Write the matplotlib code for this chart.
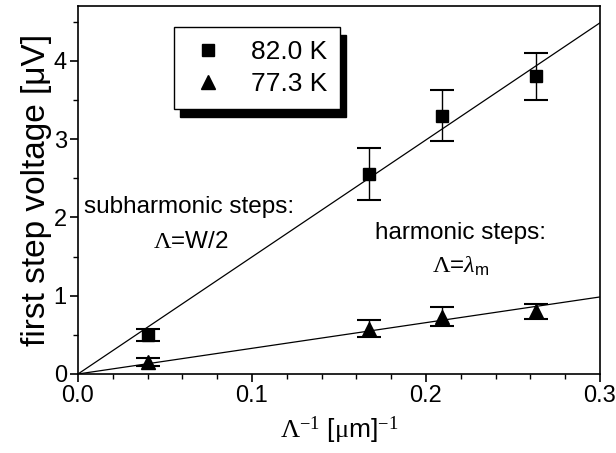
import matplotlib
matplotlib.use("Agg")
from matplotlib import pyplot as plt
from matplotlib.patches import Rectangle
from matplotlib.transforms import IdentityTransform
import numpy as np

plt.rcParams['font.family'] = ['Liberation Sans', 'DejaVu Sans']
plt.rcParams['mathtext.fontset'] = 'custom'
plt.rcParams['mathtext.rm'] = 'Liberation Serif'
plt.rcParams['mathtext.it'] = 'Liberation Serif:italic'
plt.rcParams['mathtext.sf'] = 'Liberation Sans'

# data
inv_lambda = [0.040, 0.167, 0.209, 0.263]
v_820 = [0.50, 2.55, 3.30, 3.80]
err_820 = [0.08, 0.33, 0.33, 0.30]
v_773 = [0.15, 0.58, 0.73, 0.80]
err_773 = [0.05, 0.11, 0.12, 0.10]
slope_820 = 14.95
slope_773 = 3.28

fig = plt.figure(figsize=(6.16, 4.53), dpi=100)
ax = fig.add_axes([0.1266, 0.1744, 0.8474, 0.8124])

xfit = np.array([0.0, 0.3])
ax.plot(xfit, slope_820 * xfit, '-k', lw=0.9)
ax.plot(xfit, slope_773 * xfit, '-k', lw=0.9)

ax.errorbar(inv_lambda, v_820, yerr=err_820, fmt='none', ecolor='k',
            capsize=8.5, elinewidth=1, capthick=1.5)
ax.errorbar(inv_lambda, v_773, yerr=err_773, fmt='none', ecolor='k',
            capsize=8.5, elinewidth=1, capthick=1.5)
ax.plot(inv_lambda, v_820, 's', color='k', ms=8.5, label='82.0 K')
ax.plot(inv_lambda, v_773, '^', color='k', ms=10, label='77.3 K')

ax.set_xlim(0, 0.3)
ax.set_ylim(0, 4.7)
ax.set_xticks([0.0, 0.1, 0.2, 0.3])
ax.set_xticklabels(['0.0', '0.1', '0.2', '0.3'])
ax.set_xticks(np.arange(0, 0.31, 0.02), minor=True)
ax.set_yticks([0, 1, 2, 3, 4])
ax.set_yticks(np.arange(0, 4.7, 0.5), minor=True)
ax.tick_params(which='major', direction='out', length=6, width=1.2, labelsize=17, pad=2)
ax.tick_params(which='minor', direction='out', length=3.5, width=1)
ax.tick_params(top=False, right=False)
for s in ax.spines.values():
    s.set_linewidth(1.2)

ax.set_xlabel(r'$\Lambda^{-1}$ [$\mathrm{\mu}$m]$^{-1}$', fontsize=19, labelpad=5)
ax.set_ylabel('first step voltage [\u03bcV]', fontsize=24, labelpad=1)

ax.text(0.064, 2.13, 'subharmonic steps:', fontsize=17.5, ha='center', va='center')
ax.text(0.065, 1.68, r'$\Lambda$=W/2', fontsize=17.5, ha='center', va='center')
ax.text(0.220, 1.80, 'harmonic steps:', fontsize=17.5, ha='center', va='center')
ax.text(0.220, 1.38, r'$\Lambda$=$\lambda_{\mathsf{m}}$', fontsize=17.5, ha='center', va='center')

leg = ax.legend(loc='upper left', bbox_to_anchor=(0.184, 0.943), fontsize=19,
                frameon=True, fancybox=False, edgecolor='k', framealpha=1,
                handletextpad=0.8, borderpad=0.5, labelspacing=0.3,
                handlelength=1.6, borderaxespad=0)
leg.get_frame().set_linewidth(1)
leg.set_zorder(5)

# drop shadow behind the legend box
fig.canvas.draw()
bb = leg.get_frame().get_window_extent()
shadow = Rectangle((bb.x0 + 6, bb.y0 - 8), bb.width, bb.height,
                   transform=IdentityTransform(), facecolor='k',
                   edgecolor='k', zorder=4.5, clip_on=False)
ax.add_patch(shadow)

fig.savefig('out.png', dpi=100)
